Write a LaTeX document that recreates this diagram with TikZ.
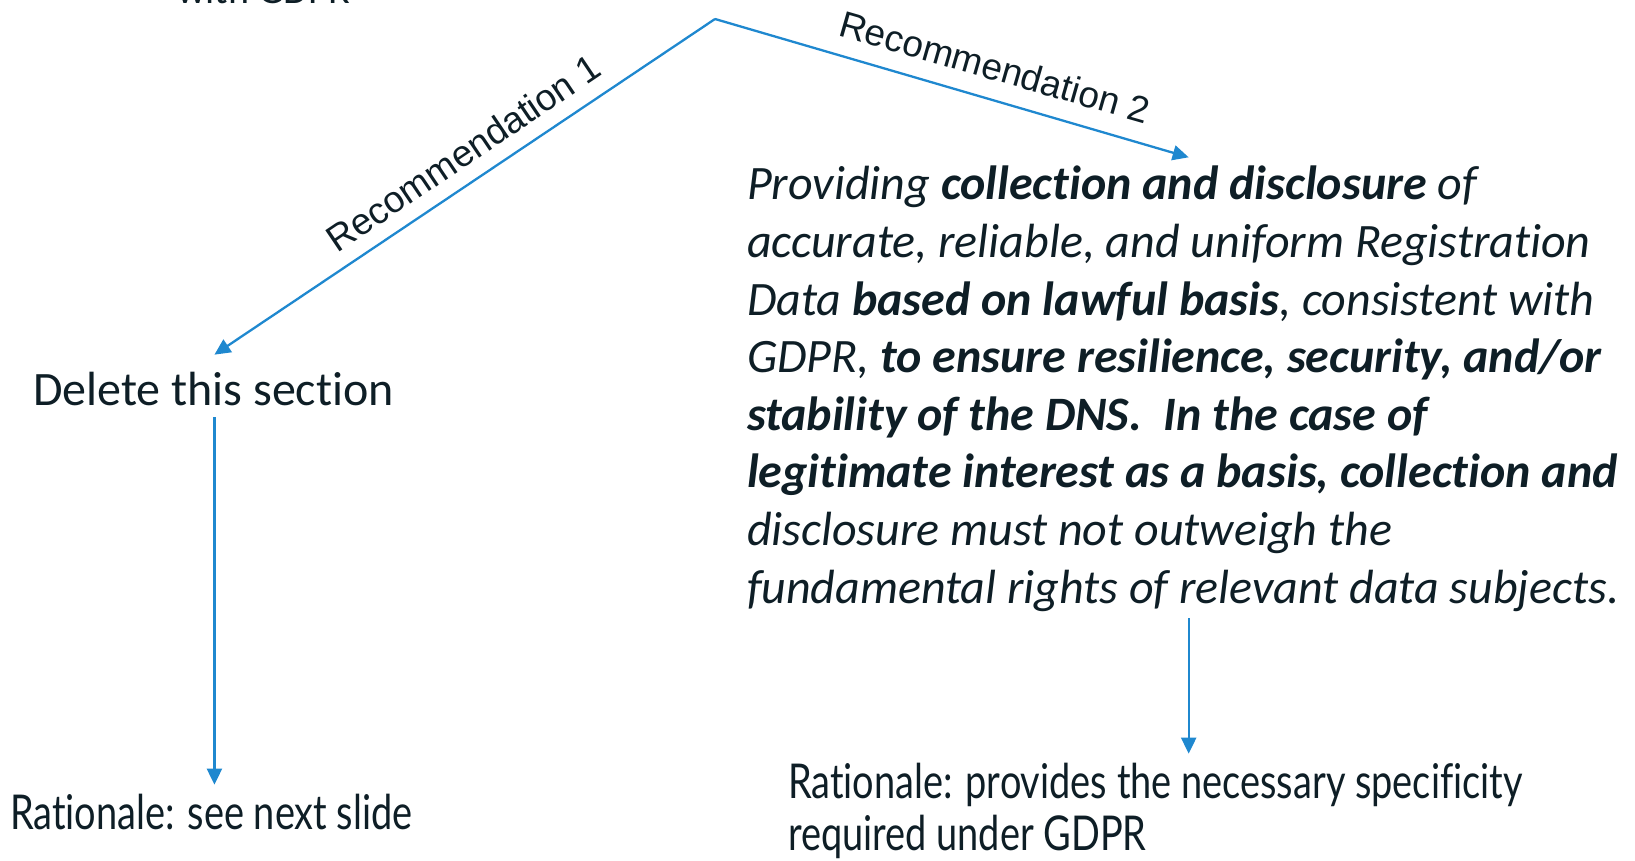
\documentclass[tikz,border=0pt]{standalone}
\usepackage{fontspec}
\setmainfont[Ligatures={NoCommon}]{Carlito}
\newfontfamily\arialf{Liberation Sans}
\newfontfamily\condf[FakeStretch=0.79,Ligatures={NoCommon}]{Lato}
\usetikzlibrary{arrows.meta}
\definecolor{arrowblue}{RGB}{31,136,207}
\definecolor{ink}{RGB}{14,30,38}
\begin{document}
\begin{tikzpicture}[x=1pt,y=-1pt,
  conn/.style={draw=arrowblue, line width=2.3pt, -{Triangle[length=16pt,width=15pt]}},
  txt/.style={inner sep=0pt, outer sep=0pt, text=ink, font=\fontsize{48}{57.6}\selectfont},
  ratl/.style={inner sep=0pt, outer sep=0pt, text=ink, font=\condf\fontsize{48}{52}\selectfont},
  reclabel/.style={inner sep=0pt, text=ink, font=\arialf\fontsize{37}{44}\selectfont}]
\useasboundingbox (0,0) rectangle (1635,861);
\clip (0,0) rectangle (1635,861);
% partially visible heading
\node[txt, anchor=base west, font=\fontsize{40}{48}\selectfont] (head) at (177,4) {with GDPR};
\coordinate (top) at (715,19);
% left branch
\node[txt, anchor=base west] (del) at (33,405) {Delete this section};
\node[ratl, anchor=base west] (rat1) at (10,829) {Rationale: see next slide};
% right branch
\node[txt, anchor=base west] (para) at (747,200) {\vtop{\baselineskip=57.6pt\itshape
  \hbox{Providing \textbf{collection and disclosure} of}
  \hbox{accurate, reliable, and uniform Registration}
  \hbox{Data \textbf{based on lawful basis}, consistent with}
  \hbox{GDPR, \textbf{to ensure resilience, security, and/or}}
  \hbox{\textbf{stability of the DNS.\ \ In the case of}}
  \hbox{\textbf{legitimate interest as a basis, collection and}}
  \hbox{disclosure must not outweigh the}
  \hbox{fundamental rights of relevant data subjects.}}};
\node[ratl, anchor=base west] (rat2) at (788,798) {\vtop{\baselineskip=52pt
  \hbox{Rationale: provides the necessary specificity}
  \hbox{required under GDPR}}};
% connectors
\coordinate (tip1) at ([xshift=1pt,yshift=17pt]del.north);
\coordinate (c1) at ([xshift=1pt,yshift=-12pt]del.south);
\coordinate (tip2) at ([xshift=5.5pt,yshift=9pt]para.north);
\coordinate (c2) at ([xshift=5.5pt,yshift=-7pt]para.south);
\draw[conn] (top) -- (tip1);
\draw[conn] (top) -- (tip2);
\draw[conn] (c1) -- ([yshift=9pt]c1 |- rat1.north);
\draw[conn] (c2) -- ([yshift=9pt]c2 |- rat2.north);
% labels
\node[reclabel, rotate=34] (rec1) at (463,153) {Recommendation 1};
\node[reclabel, rotate=-16] (rec2) at (995,67) {Recommendation 2};
\end{tikzpicture}
\end{document}
